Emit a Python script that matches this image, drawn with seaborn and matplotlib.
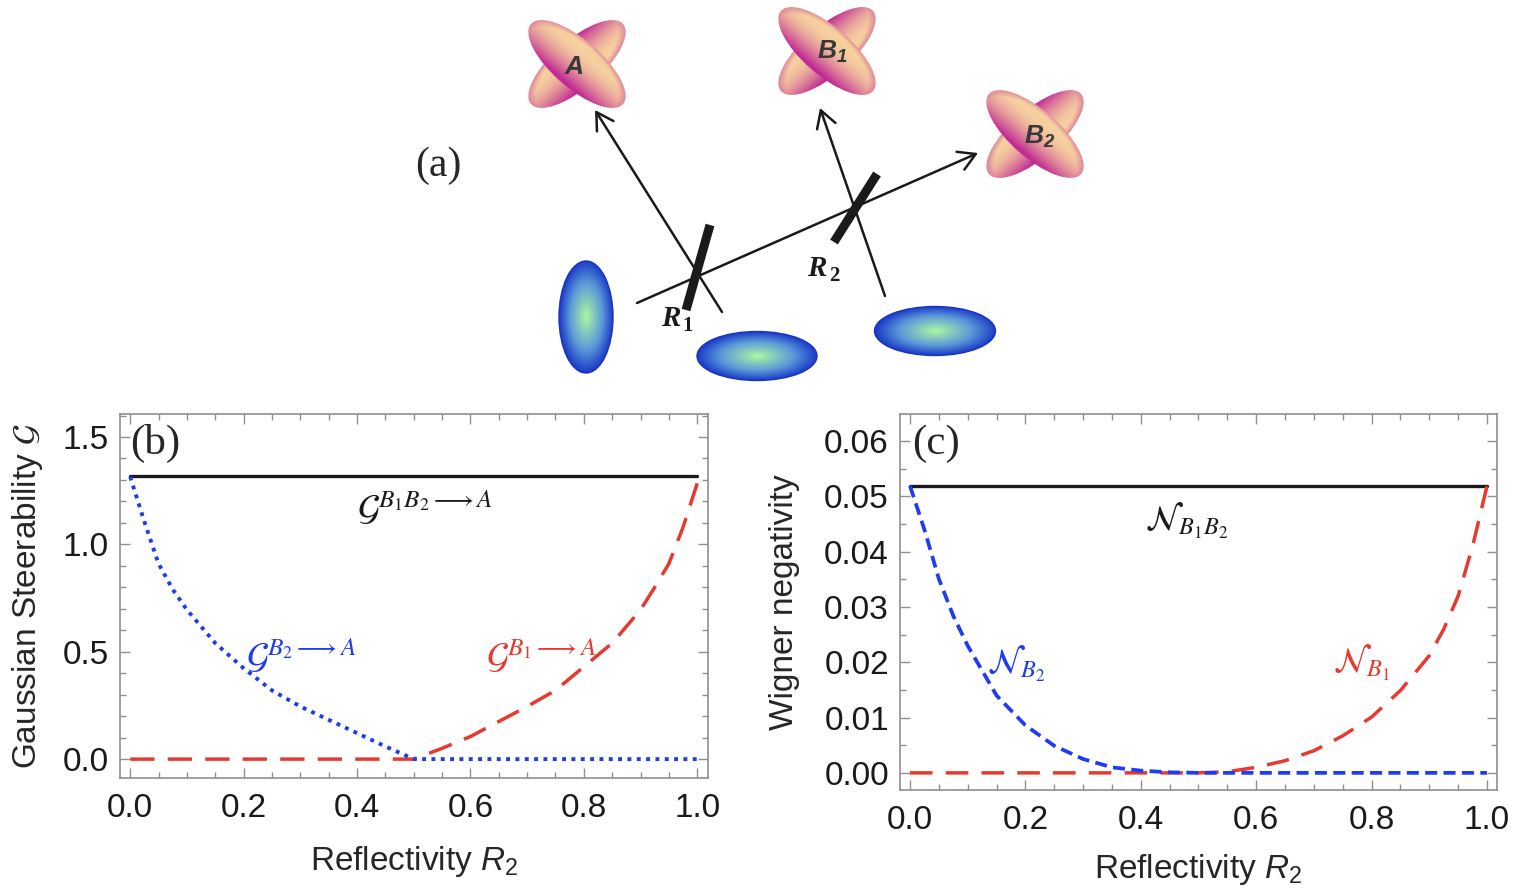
import numpy as np
import pandas as pd
import matplotlib
matplotlib.use('Agg')
import matplotlib.pyplot as plt
import seaborn as sns
from matplotlib.patches import Ellipse
from matplotlib.ticker import MultipleLocator

# ---- data ----
reflectivity = [0.0, 0.025, 0.05, 0.075, 0.1, 0.15, 0.2, 0.25, 0.3, 0.35, 0.4, 0.45, 0.5,
                0.55, 0.6, 0.65, 0.7, 0.75, 0.8, 0.85, 0.9, 0.925, 0.95, 0.975, 1.0]

steer_total = 1.32   # G^{B1B2->A}
steer_b2 = [1.315, 1.105, 0.91, 0.79, 0.695, 0.54, 0.423, 0.32, 0.245, 0.183, 0.121, 0.059, 0.0,
            0.0, 0.0, 0.0, 0.0, 0.0, 0.0, 0.0, 0.0, 0.0, 0.0, 0.0, 0.0]
steer_b1 = [0.0, 0.0, 0.0, 0.0, 0.0, 0.0, 0.0, 0.0, 0.0, 0.0, 0.0, 0.0, 0.0,
            0.05, 0.105, 0.175, 0.245, 0.32, 0.43, 0.54, 0.695, 0.80, 0.91, 1.08, 1.284]

wigner_total = 0.0519   # N_{B1B2}
wigner_b2 = [0.0519, 0.044, 0.0351, 0.0284, 0.0230, 0.0140, 0.0086, 0.0049, 0.0025, 0.0010, 0.0004, 0.0001, 0.0,
             0.0, 0.0, 0.0, 0.0, 0.0, 0.0, 0.0, 0.0, 0.0, 0.0, 0.0, 0.0]
wigner_b1 = [0.0, 0.0, 0.0, 0.0, 0.0, 0.0, 0.0, 0.0, 0.0, 0.0, 0.0, 0.0, 0.0,
             0.0002, 0.001, 0.0022, 0.004, 0.0067, 0.0101, 0.0149, 0.0212, 0.026, 0.032, 0.041, 0.0519]

BLUE = '#1f3cf2'
RED = '#e8392f'
FRAME = '#8f8f8f'

sns.set_theme(style='ticks')
plt.rcParams['font.family'] = ['Liberation Sans', 'DejaVu Sans']
plt.rcParams['mathtext.fontset'] = 'custom'
plt.rcParams['mathtext.rm'] = 'Liberation Sans'
plt.rcParams['mathtext.it'] = 'Liberation Sans:italic'
plt.rcParams['mathtext.bf'] = 'Liberation Sans:bold:italic'

fig = plt.figure(figsize=(15.2, 8.96), dpi=100)

# ---- (a) schematic, drawn in pixel coordinates ----
diag = fig.add_axes([0, 1 - 390 / 896, 1, 390 / 896])
diag.axis('off')

peach = np.array([0.965, 0.815, 0.625])
magenta = np.array([0.76, 0.17, 0.58])
green = np.array([0.68, 0.97, 0.63])
midblue = np.array([0.36, 0.60, 0.85])
deepblue = np.array([0.10, 0.23, 0.78])


def cross_shade(twist):
    # magenta on one long side of the ellipse, peach on the other
    def f(u, v):
        side = v * (-np.sign(u) if twist else 1.0)
        t2 = np.sqrt(u ** 2 + v ** 2)
        m = np.clip((side + 0.55) / 1.45, 0, 1) ** 1.7
        rim = np.clip((t2 - 0.8) / 0.2, 0, 1) * 0.45
        m = np.clip(np.maximum(m, rim), 0, 1)[..., None]
        return peach * (1 - m) + magenta * m
    return f


def blue_shade(u, v):
    t = np.clip(np.sqrt(u ** 2 + v ** 2), 0, 1)[..., None]
    lo = np.clip(t / 0.6, 0, 1)
    hi = np.clip((t - 0.6) / 0.4, 0, 1)
    c = green * (1 - lo) + midblue * lo
    return c * (1 - hi) + deepblue * hi


def shaded_ellipse(ax, cx, cy, length, width, angle, shade, z, edge='none'):
    a, b = length / 2, width / 2
    r = a + 2
    xs = np.arange(cx - r, cx + r, 0.5)
    ys = np.arange(cy - r, cy + r, 0.5)
    X, Y = np.meshgrid(xs, ys)
    th = np.deg2rad(angle)
    u = (X - cx) * np.cos(th) + (Y - cy) * np.sin(th)
    v = -(X - cx) * np.sin(th) + (Y - cy) * np.cos(th)
    rgb = shade(u / a, v / b)
    patch = Ellipse((cx, cy), length, width, angle=angle, facecolor='none',
                    edgecolor=edge, lw=1.0, zorder=z + 0.1)
    ax.add_patch(patch)
    im = ax.imshow(rgb, extent=(xs[0], xs[-1], ys[0], ys[-1]), origin='lower',
                   aspect='auto', interpolation='bilinear', zorder=z)
    im.set_clip_path(patch)


for cx, cy in [(577, 64), (827, 51), (1035, 134)]:
    shaded_ellipse(diag, cx, cy, 122, 48, -41, cross_shade(True), 2)
    shaded_ellipse(diag, cx, cy, 122, 48, 41, cross_shade(False), 3)

label_kw = dict(ha='center', va='center', color='#383838', fontsize=19, zorder=5)
diag.text(574, 67, 'A', fontweight='bold', fontstyle='italic', **label_kw)
diag.text(832, 52, r'$\mathbf{B_1}$', **label_kw)
diag.text(1040, 137, r'$\mathbf{B_2}$', **label_kw)

shaded_ellipse(diag, 586, 317, 112, 54, 90, blue_shade, 2, edge='#1a34c0')
shaded_ellipse(diag, 757, 356, 120, 49, 0, blue_shade, 2, edge='#1a34c0')
shaded_ellipse(diag, 935, 331, 121, 49, 0, blue_shade, 2, edge='#1a34c0')

arrow_kw = dict(arrowstyle='->,head_length=0.6,head_width=0.35', color='k', lw=1.8,
                shrinkA=0, shrinkB=0, mutation_scale=20)
diag.annotate('', xy=(595, 110), xytext=(722, 312), arrowprops=arrow_kw)
diag.annotate('', xy=(820, 108), xytext=(885, 296), arrowprops=arrow_kw)
diag.annotate('', xy=(978, 153), xytext=(637, 303), arrowprops=arrow_kw)

diag.plot([710, 686], [225, 310], color='k', lw=6.5, solid_capstyle='butt', zorder=4)
diag.plot([877, 834], [174, 242], color='k', lw=6.5, solid_capstyle='butt', zorder=4)

serif_bi = dict(family='Liberation Serif', fontweight='bold', color='k', ha='center', va='center')
diag.text(671, 318, 'R', fontsize=21, fontstyle='italic', **serif_bi)
diag.text(688, 326, '1', fontsize=15, **serif_bi)
diag.text(817, 268, 'R', fontsize=21, fontstyle='italic', **serif_bi)
diag.text(834, 276, '2', fontsize=15, **serif_bi)

diag.text(438, 166, '(a)', family='Liberation Serif', fontsize=30, ha='center', va='center')

diag.set_xlim(0, 1520)
diag.set_ylim(390, 0)

# ---- (b) and (c) ----
ax_b = fig.add_axes([120 / 1520, 1 - 778 / 896, 588 / 1520, 364 / 896])
ax_c = fig.add_axes([900 / 1520, 1 - 790 / 896, 597 / 1520, 376 / 896])

sns.lineplot(x=[0, 1], y=[steer_total, steer_total], ax=ax_b, color='k', lw=2.4)
sns.lineplot(x=reflectivity, y=steer_b1, ax=ax_b, color=RED, lw=2.5,
             linestyle=(0, (7, 3.8)))
sns.lineplot(x=reflectivity, y=steer_b2, ax=ax_b, color=BLUE, lw=2.8,
             linestyle=(0, (1, 1.4)))

sns.lineplot(x=[0, 1], y=[wigner_total, wigner_total], ax=ax_c, color='k', lw=2.4)
sns.lineplot(x=reflectivity, y=wigner_b1, ax=ax_c, color=RED, lw=2.5,
             linestyle=(0, (6.5, 3.8)))
sns.lineplot(x=reflectivity, y=wigner_b2, ax=ax_c, color=BLUE, lw=2.7,
             linestyle=(0, (3.2, 1.7)))

ax_b.set_xlim(-0.018, 1.019)
ax_b.set_ylim(-0.088, 1.607)
ax_c.set_xlim(-0.0173, 1.0173)
ax_c.set_ylim(-0.0031, 0.0649)

ax_b.yaxis.set_major_locator(MultipleLocator(0.5))
ax_b.yaxis.set_minor_locator(MultipleLocator(0.1))
ax_c.yaxis.set_major_locator(MultipleLocator(0.01))
ax_c.yaxis.set_minor_locator(MultipleLocator(0.005))

for ax in (ax_b, ax_c):
    ax.xaxis.set_major_locator(MultipleLocator(0.2))
    ax.xaxis.set_minor_locator(MultipleLocator(0.05))
    ax.tick_params(which='both', direction='in', top=True, right=True,
                   color=FRAME, width=1.0, labelsize=24, labelcolor='k')
    ax.tick_params(which='major', length=7)
    ax.tick_params(which='minor', length=4)
    ax.tick_params(axis='x', pad=11)
    ax.tick_params(axis='y', pad=8)
    for s in ax.spines.values():
        s.set_color(FRAME)
        s.set_linewidth(1.2)
    ax.set_xlabel(r'Reflectivity $R_2$', fontsize=24)

ax_b.set_ylabel(r'Gaussian Steerability $\mathcal{G}$', fontsize=24, math_fontfamily='stix')
ax_c.set_ylabel('Wigner negativity', fontsize=24)
ax_b.xaxis.set_label_coords(0.5, -0.18)
ax_c.xaxis.set_label_coords(0.5, -0.165)
ax_b.yaxis.set_label_coords(-0.127, 0.5)
ax_c.yaxis.set_label_coords(-0.168, 0.5)

ax_b.text(0.060, 0.92, '(b)', transform=ax_b.transAxes, family='Liberation Serif',
          fontsize=31, ha='center', va='center')
ax_c.text(0.060, 0.92, '(c)', transform=ax_c.transAxes, family='Liberation Serif',
          fontsize=31, ha='center', va='center')

ax_b.text(0.52, 1.17, r'$\mathcal{G}^{B_1B_2\longrightarrow A}$', color='k', fontsize=26,
          ha='center', va='center', math_fontfamily='stix')
ax_b.text(0.302, 0.478, r'$\mathcal{G}^{B_2\longrightarrow A}$', color=BLUE, fontsize=26,
          ha='center', va='center', math_fontfamily='stix')
ax_b.text(0.725, 0.478, r'$\mathcal{G}^{B_1\longrightarrow A}$', color=RED, fontsize=26,
          ha='center', va='center', math_fontfamily='stix')

ax_c.text(0.48, 0.0455, r'$\mathcal{N}_{B_1B_2}$', color='k', fontsize=25,
          ha='center', va='center', math_fontfamily='stix')
ax_c.text(0.184, 0.0197, r'$\mathcal{N}_{B_2}$', color=BLUE, fontsize=25,
          ha='center', va='center', math_fontfamily='stix')
ax_c.text(0.782, 0.0199, r'$\mathcal{N}_{B_1}$', color=RED, fontsize=25,
          ha='center', va='center', math_fontfamily='stix')

fig.savefig('out.png', dpi=100)
